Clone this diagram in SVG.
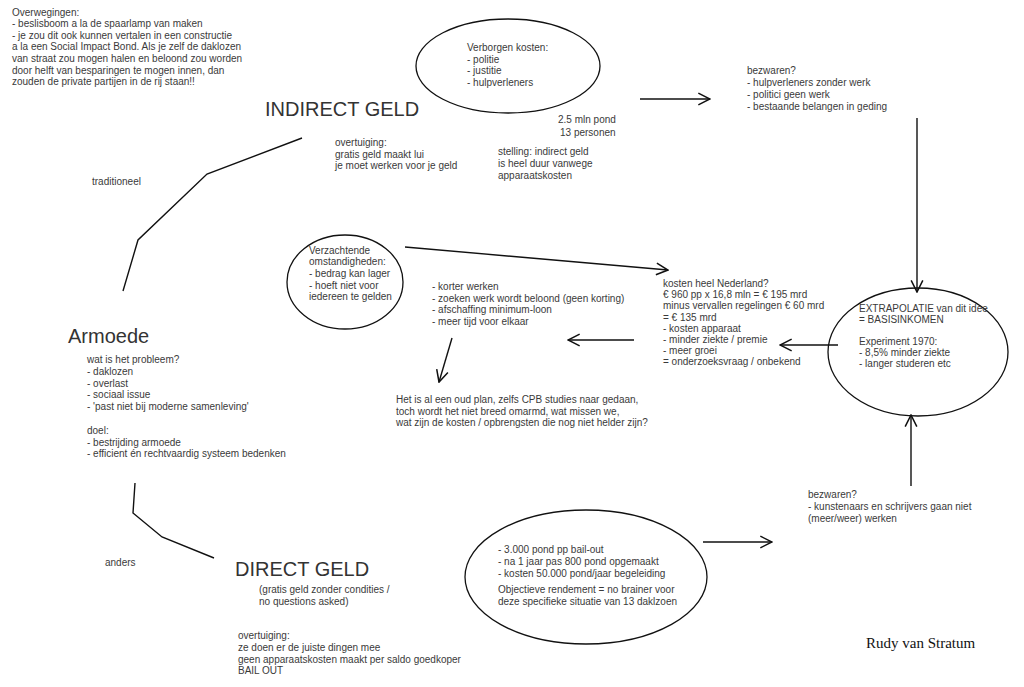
<svg xmlns="http://www.w3.org/2000/svg" width="1024" height="687" viewBox="0 0 1024 687">
<style>
  .t { font-family: "Liberation Sans", Arial, sans-serif; font-size: 10px; fill: #3a3a3a; }
  .h { font-family: "Liberation Sans", Arial, sans-serif; font-size: 20px; fill: #333; }
  .sig { font-family: "Liberation Serif", "Times New Roman", serif; font-size: 15px; fill: #111; }
  .ln { fill: none; stroke: #111; stroke-width: 1.4; }
  .el { fill: none; stroke: #111; stroke-width: 1.3; }
</style>
<defs>
  <marker id="arr" markerUnits="userSpaceOnUse" markerWidth="14" markerHeight="14" viewBox="0 0 12 12" refX="11" refY="6" orient="auto">
    <path d="M1,1 L11,6 L1,11" fill="none" stroke="#111" stroke-width="1.3"/>
  </marker>
</defs>
<rect width="1024" height="687" fill="#fff"/>

<g id="connectors">
  <polyline class="ln" points="123,291 138,240 207,174 302,138"/>
  <polyline class="ln" points="135,483 133,513 162,537 214,558"/>
  <line class="ln" x1="640" y1="99" x2="710" y2="99" marker-end="url(#arr)"/>
  <line class="ln" x1="917" y1="118" x2="917" y2="292" marker-end="url(#arr)"/>
  <line class="ln" x1="405" y1="247" x2="668" y2="270" marker-end="url(#arr)"/>
  <line class="ln" x1="838" y1="345" x2="780" y2="345" marker-end="url(#arr)"/>
  <line class="ln" x1="634" y1="340" x2="568" y2="340" marker-end="url(#arr)"/>
  <line class="ln" x1="452" y1="338" x2="439" y2="382" marker-end="url(#arr)"/>
  <line class="ln" x1="703" y1="542" x2="772" y2="542" marker-end="url(#arr)"/>
  <line class="ln" x1="911" y1="486" x2="911" y2="415" marker-end="url(#arr)"/>
</g>

<g id="overwegingen">
  <text class="t"><tspan x="12" y="15.5">Overwegingen:</tspan><tspan x="12" y="27.1">- beslisboom a la de spaarlamp van maken</tspan><tspan x="12" y="38.7">- je zou dit ook kunnen vertalen in een constructie</tspan><tspan x="12" y="50.3">a la een Social Impact Bond. Als je zelf de daklozen</tspan><tspan x="12" y="61.9">van straat zou mogen halen en beloond zou worden</tspan><tspan x="12" y="73.5">door helft van besparingen te mogen innen, dan</tspan><tspan x="12" y="85.1">zouden de private partijen in de rij staan!!</tspan></text>
</g>

<g id="indirect-geld">
  <text class="h" x="265" y="116">INDIRECT GELD</text>
  <text class="t"><tspan x="335" y="146">overtuiging:</tspan><tspan x="335" y="157.6">gratis geld maakt lui</tspan><tspan x="335" y="169.2">je moet werken voor je geld</tspan></text>
  <text class="t" x="92" y="185">traditioneel</text>
</g>

<g id="verborgen-kosten">
  <ellipse class="el" cx="508" cy="66" rx="92" ry="47"/>
  <text class="t"><tspan x="467" y="51">Verborgen kosten:</tspan><tspan x="467" y="62.6">- politie</tspan><tspan x="467" y="74.2">- justitie</tspan><tspan x="467" y="85.8">- hulpverleners</tspan></text>
  <text class="t"><tspan x="558" y="123">2.5 mln pond</tspan><tspan x="560" y="135.6">13 personen</tspan></text>
  <text class="t"><tspan x="498" y="155">stelling: indirect geld</tspan><tspan x="498" y="167">is heel duur vanwege</tspan><tspan x="498" y="179">apparaatskosten</tspan></text>
</g>

<g id="bezwaren-top">
  <text class="t"><tspan x="747" y="74">bezwaren?</tspan><tspan x="747" y="86">- hulpverleners zonder werk</tspan><tspan x="747" y="98">- politici geen werk</tspan><tspan x="747" y="110">- bestaande belangen in geding</tspan></text>
</g>

<g id="verzachtende">
  <ellipse class="el" cx="345" cy="282" rx="58" ry="47"/>
  <text class="t"><tspan x="309" y="253.5">Verzachtende</tspan><tspan x="309" y="265.2">omstandigheden:</tspan><tspan x="309" y="276.9">- bedrag kan lager</tspan><tspan x="309" y="288.6">- hoeft niet voor</tspan><tspan x="309" y="300.3">iedereen te gelden</tspan></text>
</g>

<g id="korter-werken">
  <text class="t"><tspan x="432" y="290">- korter werken</tspan><tspan x="432" y="301.7">- zoeken werk wordt beloond (geen korting)</tspan><tspan x="432" y="313.4">- afschaffing minimum-loon</tspan><tspan x="432" y="325.1">- meer tijd voor elkaar</tspan></text>
</g>

<g id="kosten-nederland">
  <text class="t"><tspan x="663" y="287">kosten heel Nederland?</tspan><tspan x="663" y="298.2">€ 960 pp x 16,8 mln = € 195 mrd</tspan><tspan x="663" y="309.4">minus vervallen regelingen € 60 mrd</tspan><tspan x="663" y="320.6">= € 135 mrd</tspan><tspan x="663" y="331.8">- kosten apparaat</tspan><tspan x="663" y="343">- minder ziekte / premie</tspan><tspan x="663" y="354.2">- meer groei</tspan><tspan x="663" y="365.4">= onderzoeksvraag / onbekend</tspan></text>
</g>

<g id="basisinkomen">
  <ellipse class="el" cx="918" cy="352" rx="90" ry="64"/>
  <text class="t"><tspan x="859" y="312">EXTRAPOLATIE van dit idee</tspan><tspan x="859" y="323">= BASISINKOMEN</tspan><tspan x="859" y="345">Experiment 1970:</tspan><tspan x="859" y="356">- 8,5% minder ziekte</tspan><tspan x="859" y="367">- langer studeren etc</tspan></text>
</g>

<g id="oud-plan">
  <text class="t"><tspan x="396" y="403">Het is al een oud plan, zelfs CPB studies naar gedaan,</tspan><tspan x="396" y="414.7">toch wordt het niet breed omarmd, wat missen we,</tspan><tspan x="396" y="426.4">wat zijn de kosten / opbrengsten die nog niet helder zijn?</tspan></text>
</g>

<g id="armoede">
  <text class="h" x="68" y="343">Armoede</text>
  <text class="t"><tspan x="87" y="363">wat is het probleem?</tspan><tspan x="87" y="374.8">- daklozen</tspan><tspan x="87" y="386.6">- overlast</tspan><tspan x="87" y="398.4">- sociaal issue</tspan><tspan x="87" y="410.2">- 'past niet bij moderne samenleving'</tspan><tspan x="87" y="433.8">doel:</tspan><tspan x="87" y="445.6">- bestrijding armoede</tspan><tspan x="87" y="457.4">- efficient én rechtvaardig systeem bedenken</tspan></text>
</g>

<g id="direct-geld">
  <text class="t" x="105" y="566">anders</text>
  <text class="h" x="235" y="576">DIRECT GELD</text>
  <text class="t"><tspan x="259" y="593">(gratis geld zonder condities /</tspan><tspan x="259" y="605">no questions asked)</tspan></text>
  <text class="t"><tspan x="238" y="639">overtuiging:</tspan><tspan x="238" y="650.8">ze doen er de juiste dingen mee</tspan><tspan x="238" y="662.6">geen apparaatskosten maakt per saldo goedkoper</tspan><tspan x="238" y="674.4">BAIL OUT</tspan></text>
</g>

<g id="bail-out">
  <ellipse class="el" cx="586" cy="577" rx="121" ry="67"/>
  <text class="t"><tspan x="498" y="553">- 3.000 pond pp bail-out</tspan><tspan x="498" y="564.8">- na 1 jaar pas 800 pond opgemaakt</tspan><tspan x="498" y="576.6">- kosten 50.000 pond/jaar begeleiding</tspan><tspan x="498" y="593">Objectieve rendement = no brainer voor</tspan><tspan x="498" y="605">deze specifieke situatie van 13 daklzoen</tspan></text>
</g>

<g id="bezwaren-bottom">
  <text class="t"><tspan x="808" y="498">bezwaren?</tspan><tspan x="808" y="510">- kunstenaars en schrijvers gaan niet</tspan><tspan x="808" y="522">(meer/weer) werken</tspan></text>
</g>

<g id="signature">
  <text class="sig" x="866" y="648">Rudy van Stratum</text>
</g>
</svg>
